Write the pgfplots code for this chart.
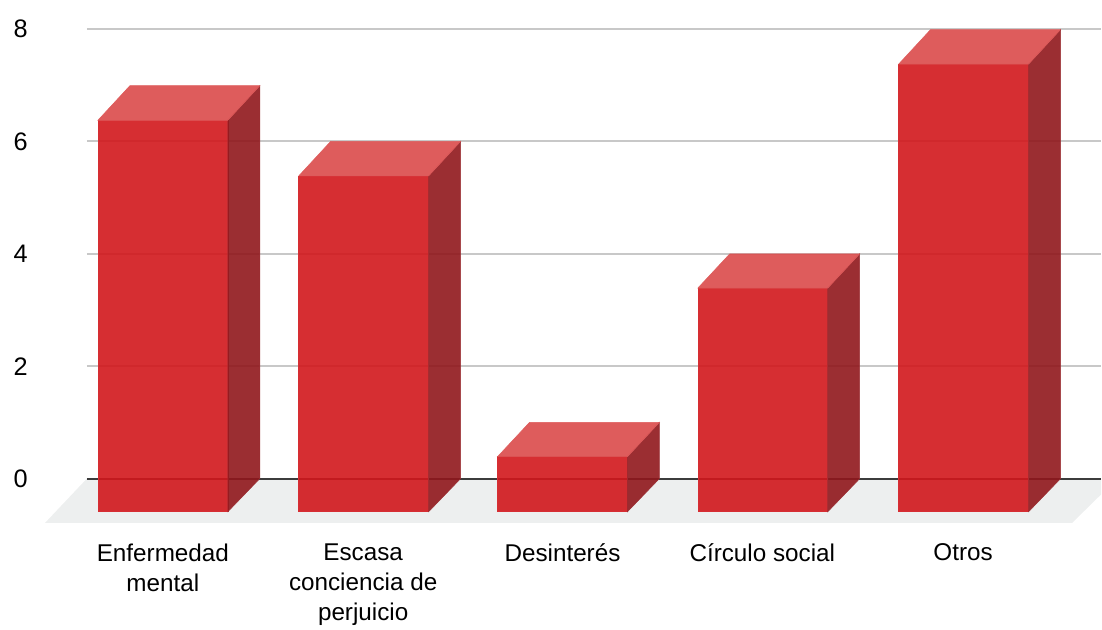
\documentclass[border=0pt]{standalone}
\usepackage{fontspec}
\setmainfont{Liberation Sans}
\usepackage{pgfplots}
\pgfplotsset{compat=1.18}
\definecolor{barfront}{RGB}{209,23,28}
\definecolor{bartop}{RGB}{218,74,74}
\definecolor{barside}{RGB}{144,23,28}
\definecolor{edgefront}{RGB}{214,46,51}
\definecolor{edgetop}{RGB}{222,92,92}
\definecolor{edgeside}{RGB}{155,46,51}
\definecolor{floorgray}{RGB}{237,239,239}
\definecolor{gridgray}{RGB}{200,200,200}
\definecolor{zeroline}{RGB}{60,60,60}
\begin{document}
\begin{tikzpicture}
\begin{axis}[
  at={(0,0)},
  anchor=south west,
  width=761.25pt,
  height=370.5pt,
  scale only axis,
  clip=false,
  xmin=87, xmax=1102,
  ymin=-0.782, ymax=8,
  axis line style={draw=none},
  major tick length=0pt,
  ytick={0,2,4,6,8},
  ymajorgrids,
  grid style={draw=gridgray,line width=1.5pt},
  xtick={163,363.5,563,763,964},
  xticklabels={Enfermedad\\mental,Escasa\\conciencia de\\perjuicio,Desinterés,Círculo social,Otros},
  xticklabel style={align=center,anchor=north,font=\fontsize{18.2}{22.5}\selectfont,yshift=-12.25pt},
  yticklabel style={font=\fontsize{19}{22.5}\selectfont,xshift=-41pt},
  /pgf/number format/assume math mode=true,
  front/.style={fill=barfront,fill opacity=0.9,draw=edgefront,line width=0.4pt,mark=none},
  top/.style={fill=bartop,fill opacity=0.9,draw=edgetop,line width=0.4pt,mark=none},
  side/.style={fill=barside,fill opacity=0.9,draw=edgeside,line width=0.4pt,mark=none},
]
% floor
\addplot[fill=floorgray,draw=none,mark=none] coordinates {(87,0) (1102,0) (1102,-0.284) (1073,-0.79) (45,-0.79)} --cycle;
\addplot[draw=zeroline,line width=1.5pt,mark=none] coordinates {(87,0) (1102,0)};

% Enfermedad mental = 7
\addplot[front] coordinates {(98,-0.59) (228,-0.59) (228,6.375) (98,6.375)} --cycle;
\addplot[side] coordinates {(228,-0.59) (260,0) (260,6.99) (228,6.375)} --cycle;
\addplot[top] coordinates {(98,6.375) (228,6.375) (260,6.99) (130,6.99)} --cycle;

% Escasa conciencia de perjuicio = 6
\addplot[front] coordinates {(299,-0.59) (429,-0.59) (429,5.385) (299,5.385)} --cycle;
\addplot[side] coordinates {(429,-0.59) (461,0) (461,6) (429,5.385)} --cycle;
\addplot[top] coordinates {(299,5.385) (429,5.385) (461,6) (331,6)} --cycle;

% Desinteres = 1
\addplot[front] coordinates {(498,-0.59) (628,-0.59) (628,0.39) (498,0.39)} --cycle;
\addplot[side] coordinates {(628,-0.59) (660,0) (660,1) (628,0.39)} --cycle;
\addplot[top] coordinates {(498,0.39) (628,0.39) (660,1) (530,1)} --cycle;

% Circulo social = 4
\addplot[front] coordinates {(698.5,-0.59) (828.5,-0.59) (828.5,3.39) (698.5,3.39)} --cycle;
\addplot[side] coordinates {(828.5,-0.59) (860.5,0) (860.5,4) (828.5,3.39)} --cycle;
\addplot[top] coordinates {(698.5,3.39) (828.5,3.39) (860.5,4) (730.5,4)} --cycle;

% Otros = 8
\addplot[front] coordinates {(899.5,-0.59) (1029.5,-0.59) (1029.5,7.375) (899.5,7.375)} --cycle;
\addplot[side] coordinates {(1029.5,-0.59) (1061.5,0) (1061.5,7.99) (1029.5,7.375)} --cycle;
\addplot[top] coordinates {(899.5,7.375) (1029.5,7.375) (1061.5,7.99) (931.5,7.99)} --cycle;
\end{axis}
\path (-65.25pt,-76.5pt) rectangle (761.25pt,392.25pt);
\end{tikzpicture}
\end{document}
